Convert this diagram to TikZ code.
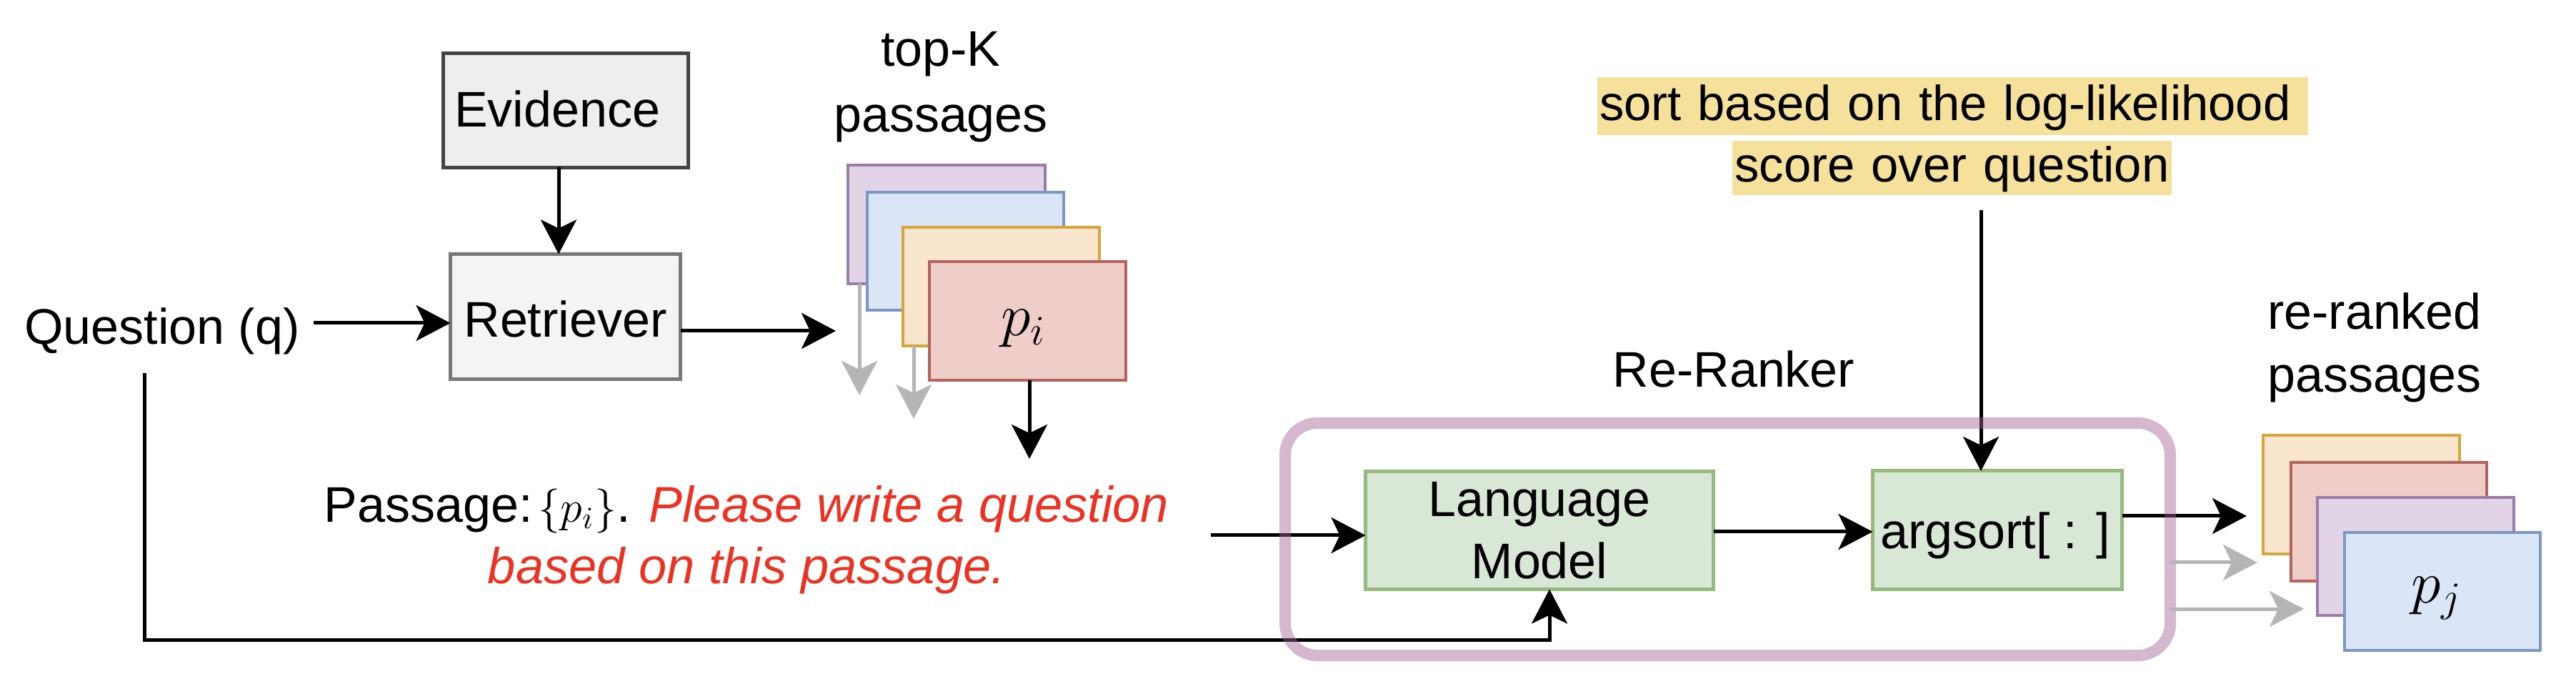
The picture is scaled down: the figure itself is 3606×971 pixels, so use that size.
\documentclass[tikz,border=0pt]{standalone}
\usepackage{fix-cm}
\usepackage{fontspec}
\setmainfont{Liberation Sans}
\usetikzlibrary{arrows.meta}
\definecolor{evfill}{HTML}{EEEEEE}
\definecolor{evline}{HTML}{444444}
\definecolor{retfill}{HTML}{F4F4F4}
\definecolor{retline}{HTML}{777777}
\definecolor{grfill}{HTML}{D9E7D6}
\definecolor{grline}{HTML}{96B97F}
\definecolor{pufill}{HTML}{E0D4E6}
\definecolor{puline}{HTML}{9A7BAA}
\definecolor{blfill}{HTML}{DAE6F8}
\definecolor{blline}{HTML}{7D97C4}
\definecolor{orfill}{HTML}{FAE6CE}
\definecolor{orline}{HTML}{D6A63D}
\definecolor{rdfill}{HTML}{EFCDC9}
\definecolor{rdline}{HTML}{B5635C}
\definecolor{graytip}{HTML}{B5B5B5}
\definecolor{notefill}{HTML}{F5E19C}
\definecolor{promptred}{HTML}{EA3323}
\definecolor{rrline}{HTML}{A26192}
\newcommand{\redtext}[1]{\textcolor{promptred}{\fontsize{17.6}{21.5}\selectfont\itshape #1}}
\tikzset{
  sz/.style 2 args={minimum width=#1*0.25pt,minimum height=#2*0.25pt},
  box/.style={rectangle,draw,line width=1.25pt,inner sep=0pt,outer sep=0pt,font=\fontsize{17.5}{21.75}\selectfont,align=center},
  card/.style={rectangle,draw,line width=1pt,inner sep=0pt,outer sep=0pt},
  lbl/.style={inner sep=0pt,outer sep=0pt,font=\fontsize{17.5}{23}\selectfont,align=center},
  mathlbl/.style={inner sep=0pt,outer sep=0pt,font=\fontsize{21}{25}\selectfont},
  notelbl/.style={fill=notefill,inner sep=0pt,outer sep=0pt,font=\fontsize{17.2}{21}\selectfont},
  arr/.style={line width=1.25pt,-{Stealth[length=12pt,width=12.5pt,inset=3pt]}},
  grayarr/.style={arr,draw=graytip,color=graytip},
}
\begin{document}
\begin{tikzpicture}[x=0.25pt,y=-0.25pt]
  \useasboundingbox (0,0) rectangle (3606,971);

  % left part
  \node[box,sz={343}{160},fill=evfill,draw=evline,text height=11.75pt,text depth=0pt] (ev) at (792,154.5) {Evidence\hspace*{6pt}};
  \node[box,sz={322}{175},fill=retfill,draw=retline,text height=14.5pt,text depth=0pt] (ret) at (791.5,443) {Retriever};
  \node[lbl,anchor=base] (q) at (227,482) {Question (q)};

  % top-K stack
  \node[lbl] (topk) at (1317,122) {top-K\\passages};
  \node[card,sz={276}{166},fill=pufill,draw=puline] (top1) at (1325,314) {};
  \node[card,sz={275}{165},fill=blfill,draw=blline] (top2) at (1351.5,351.5) {};
  \node[card,sz={275}{166},fill=orfill,draw=orline] (top3) at (1401.5,401) {};
  \node[card,sz={275}{166},fill=rdfill,draw=rdline] (top4) at (1438.5,449) {};
  \node[mathlbl] (pi) at (1433,460) {$p_i$};

  % prompt
  \node[lbl,font=\fontsize{17.5}{21.5}\selectfont] (prompt) at (1045,755)
    {Passage:\hspace{2pt}{\fontsize{15.5}{21.5}\selectfont$\{p_i\}$}. \redtext{Please write a question}\\
     \redtext{based on this passage.}};

  % re-ranker
  \node[lbl,anchor=base] (rrlbl) at (2427,542) {Re-Ranker};
  \node[box,sz={487}{165},fill=grfill,draw=grline] (lm) at (2155,742) {Language\\Model};
  \node[box,sz={349}{165},fill=grfill,draw=grline,text height=13.25pt,text depth=0pt] (as) at (2796,741.5) {argsort[ : ]\hspace*{1.5pt}};

  % note
  \node[notelbl,text width=248.75pt,align=left,text height=15.25pt,text depth=5pt] (note1) at (2733.5,148.5) {\hspace*{0.75pt}sort based on the log-likelihood};
  \node[notelbl,text width=153.75pt,align=center,text height=14.5pt,text depth=4.5pt] (note2) at (2732.5,235) {score over question};

  % re-ranked stack
  \node[lbl,font=\fontsize{17.5}{22}\selectfont] (rrk) at (3324,486) {re-ranked\\passages};
  \node[card,sz={275}{166},fill=orfill,draw=orline] (low1) at (3305.5,692) {};
  \node[card,sz={274}{166},fill=rdfill,draw=rdline] (low2) at (3344,730) {};
  \node[card,sz={275}{165},fill=pufill,draw=puline] (low3) at (3381.5,778.5) {};
  \node[card,sz={274}{165},fill=blfill,draw=blline] (low4) at (3419,827.5) {};
  \node[mathlbl] (pj) at (3411,837) {$p_j$};

  % free ends
  \coordinate (evx) at (782,300);
  \coordinate (qout) at (439,452);
  \coordinate (topin) at (1170,463);
  \coordinate (gr1) at (1203,553);
  \coordinate (gr2) at (1279,586);
  \coordinate (pout) at (1441,642);
  \coordinate (pin) at (1695,749);
  \coordinate (qwire) at (202,522);
  \coordinate (wcorner) at (2169,895);
  \coordinate (lmas) at (2500,744);
  \coordinate (noteout) at (2773,294);
  \coordinate (asout) at (3145,722);
  \coordinate (rr1) at (3160,787);
  \coordinate (rr2) at (3225,852);

  % connectors
  \draw[arr] (evx |- ev.south) -- (evx |- ret.north);
  \draw[arr] (qout) -- (qout -| ret.west);
  \draw[arr] (topin -| ret.east) -- (topin);
  \draw[grayarr] (gr1 |- top1.south) -- (gr1);
  \draw[grayarr] (gr2 |- top3.south) -- (gr2);
  \draw[arr] (pout |- top4.south) -- (pout);
  \draw[arr] (pin) -- (pin -| lm.west);
  \draw[arr] (qwire) |- (wcorner) -- (wcorner |- lm.south);
  \draw[arr] (lmas -| lm.east) -- (lmas -| as.west);
  \draw[arr] (noteout) -- (noteout |- as.north);
  \draw[arr] (asout -| as.east) -- (asout);

  % frame goes over the arrows
  \node[rectangle,draw=rrline,draw opacity=0.45,line width=4pt,rounded corners=11.25pt,sz={1239}{325},inner sep=0pt,outer sep=0pt] (rr) at (2418.5,754.5) {};
  \draw[grayarr] (rr1 -| rr.east) -- (rr1);
  \draw[grayarr] (rr2 -| rr.east) -- (rr2);
\end{tikzpicture}
\end{document}
